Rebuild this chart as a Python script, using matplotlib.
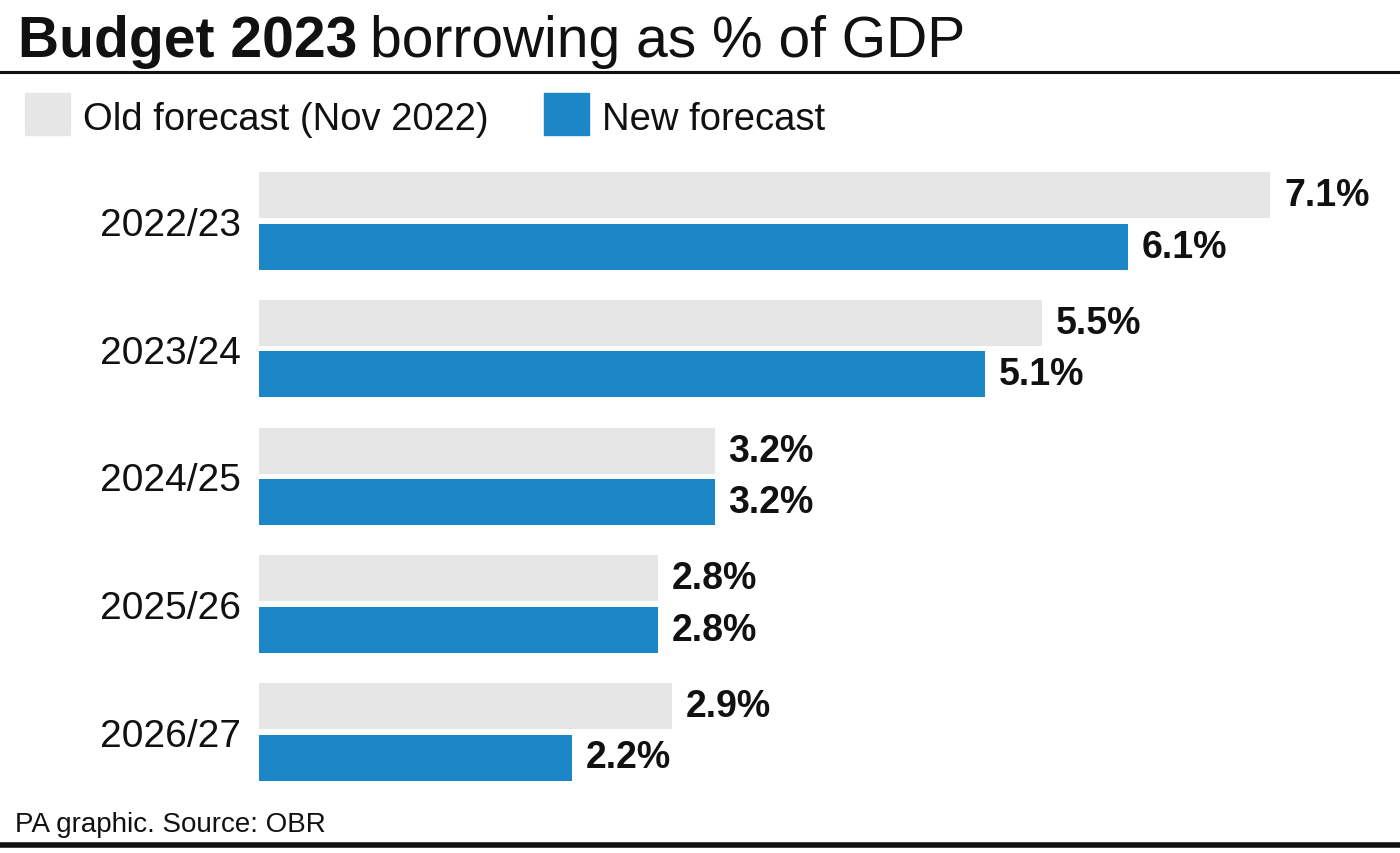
import matplotlib
matplotlib.use('Agg')
import matplotlib.pyplot as plt

# 数据
years = ['2022/23', '2023/24', '2024/25', '2025/26', '2026/27']
old_forecast = [7.1, 5.5, 3.2, 2.8, 2.9]
new_forecast = [6.1, 5.1, 3.2, 2.8, 2.2]
old_label = 'Old forecast (Nov 2022)'
new_label = 'New forecast'

plt.rcParams['font.family'] = ['Liberation Sans', 'DejaVu Sans']

W, H = 1400, 854
fig = plt.figure(figsize=(14, 8.54), dpi=100)

# 坐标轴按像素位置放置
ax_l, ax_r, ax_t, ax_b = 259, 1400, 160, 790
ax = fig.add_axes([ax_l / W, 1 - ax_b / H, (ax_r - ax_l) / W, (ax_b - ax_t) / H])
px_per_unit = 142.4
pitch = 127.7
ax.set_xlim(0, (ax_r - ax_l) / px_per_unit)
ax.set_ylim((ax_b - 222) / pitch, (ax_t - 222) / pitch)

old_color = '#e6e6e6'
new_color = '#1b87c6'
pos = list(range(len(years)))
h = 46 / pitch
off = 25.7 / pitch
ax.barh([p - off for p in pos], old_forecast, height=h, color=old_color)
ax.barh([p + off for p in pos], new_forecast, height=h, color=new_color)

# 数值标签
for p, v in zip(pos, old_forecast):
    ax.annotate(f'{v}%', (v, p - off), xytext=(10, 0), textcoords='offset points',
                va='center', ha='left', fontsize=27, fontweight='bold', color='#111111')
for p, v in zip(pos, new_forecast):
    ax.annotate(f'{v}%', (v, p + off), xytext=(10, 0), textcoords='offset points',
                va='center', ha='left', fontsize=27, fontweight='bold', color='#111111')

ax.set_yticks(pos)
ax.set_yticklabels(years, fontsize=28, color='#111111')
ax.tick_params(axis='y', length=0, pad=13)
ax.set_xticks([])
for s in ax.spines.values():
    s.set_visible(False)

# 标题
renderer = fig.canvas.get_renderer()
t1 = fig.text(18 / W, 1 - 57 / H, 'Budget 2023', fontsize=41, fontweight='bold',
              color='#111111', va='baseline', ha='left')
bb = t1.get_window_extent(renderer)
fig.text((bb.x1 + 13) / W, 1 - 57 / H, 'borrowing as % of GDP', fontsize=41,
         color='#111111', va='baseline', ha='left')

# 线
fig.add_artist(plt.Line2D([0, 1], [1 - 73 / H, 1 - 73 / H], color='#111111', lw=2.2))
fig.add_artist(plt.Line2D([0, 1], [1 - 846 / H, 1 - 846 / H], color='#111111', lw=4))

# 图例
fig.add_artist(plt.Rectangle((25 / W, 1 - 136 / H), 45 / W, 42 / H, color=old_color))
fig.text(83 / W, 1 - 130 / H, old_label, fontsize=27.5, color='#111111', va='baseline')
fig.add_artist(plt.Rectangle((544 / W, 1 - 136 / H), 45 / W, 42 / H, color=new_color))
fig.text(602 / W, 1 - 130 / H, new_label, fontsize=27.5, color='#111111', va='baseline')

# 来源
fig.text(15 / W, 1 - 832 / H, 'PA graphic. Source: OBR', fontsize=20, color='#111111',
         va='baseline')

fig.savefig('out.png', dpi=100)
